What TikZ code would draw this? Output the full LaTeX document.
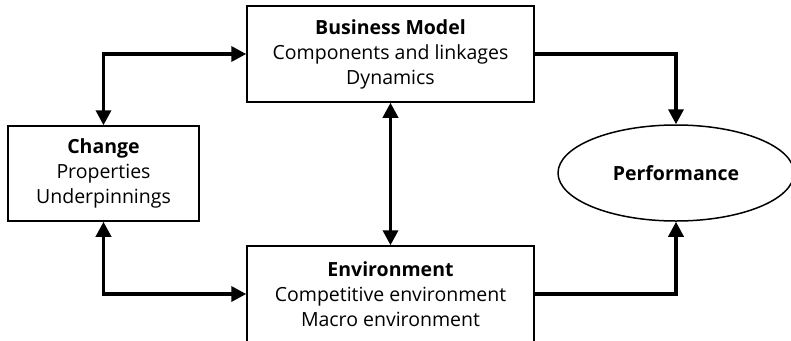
\documentclass[tikz,border=0pt]{standalone}
\usepackage{fontspec}
\setmainfont{Open Sans}
\usetikzlibrary{arrows.meta,shapes.geometric}
\begin{document}
\begin{tikzpicture}[x=1pt,y=-1pt,
  box/.style={draw,line width=1.5pt,rectangle,align=center,font=\fontsize{19.5}{25}\selectfont,inner sep=0pt},
  oval/.style={draw,line width=1.5pt,ellipse,align=center,font=\fontsize{19.5}{25}\selectfont,inner sep=0pt},
  link/.style={line width=3.5pt,-{Triangle[length=15pt,width=15pt]}},
  dlink/.style={line width=3.5pt,{Triangle[length=15pt,width=15pt]}-{Triangle[length=15pt,width=15pt]}}]
\useasboundingbox (0,0) rectangle (791,340);
\clip (0,0) rectangle (791,340);
\node[box,minimum width=287pt,minimum height=96pt] (bm) at (390.5,54) {\textbf{Business Model}\\Components and linkages\\Dynamics};
\node[box,minimum width=191pt,minimum height=95pt] (ch) at (103.5,173.5) {\textbf{Change}\\Properties\\Underpinnings};
\node[box,minimum width=287pt,minimum height=96pt] (env) at (390.5,294) {\textbf{Environment}\\Competitive environment\\Macro environment};
\node[oval,minimum width=236pt,minimum height=96pt] (perf) at (676,173) {\textbf{Performance}};
\draw[dlink] (ch.north) |- (bm.west);
\draw[dlink] (ch.south) |- (env.west);
\draw[dlink] (bm.south) -- (env.north);
\draw[link] (bm.east) -| (perf.north);
\draw[link] (env.east) -| (perf.south);
\end{tikzpicture}
\end{document}
